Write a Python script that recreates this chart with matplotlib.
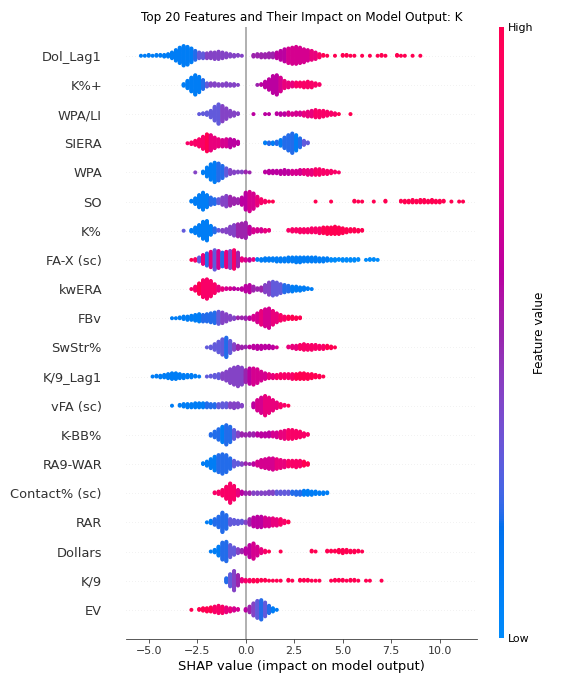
import numpy as np
import matplotlib
matplotlib.use("Agg")
import matplotlib.pyplot as plt
from matplotlib.colors import LinearSegmentedColormap, Normalize
from matplotlib.cm import ScalarMappable

title = "Top 20 Features and Their Impact on Model Output: K"

# feature names, top row first
features = ["Dol_Lag1", "K%+", "WPA/LI", "SIERA", "WPA", "SO", "K%", "FA-X (sc)",
            "kwERA", "FBv", "SwStr%", "K/9_Lag1", "vFA (sc)", "K-BB%", "RA9-WAR",
            "Contact% (sc)", "RAR", "Dollars", "K/9", "EV"]

# SHAP values binned: bin centres start at -5.6 and step 0.2
# *_n = number of samples in each bin, *_c = feature value level 0..10
bin_start = -5.6
bin_step = 0.2
n_bins = 85

dol_lag1_n = [0, 1, 1, 2, 1, 2, 2, 3, 4, 8, 14, 20, 25, 23, 18, 12, 8, 7, 7, 8, 9, 10, 8, 6, 4,
              3, 2, 1, 0, 0, 3, 4, 5, 5, 6, 6, 8, 12, 16, 19, 21, 22, 20, 17, 14, 12, 9, 5, 2, 1,
              0, 1, 0, 2, 2, 1, 1, 0, 1, 0, 1, 0, 1, 2, 1, 0, 0, 2, 1, 1, 0, 1, 0, 1, 0]
dol_lag1_c = [1, 1, 1, 1, 1, 1, 1, 1, 1, 1, 1, 1, 1, 1, 1, 2, 3, 3, 4, 4, 4, 4, 4, 4, 4,
              4, 4, 4, 5, 5, 5, 5, 5, 5, 5, 5, 6, 6, 6, 7, 7, 7, 7, 7, 7, 8, 8, 9, 10, 10,
              10, 10, 10, 10, 10, 10, 10, 10, 10, 10, 10, 10, 10, 10, 10, 10, 10, 10, 10, 10, 10, 10, 10, 10, 10]

k_pct_plus_n = [0, 0, 0, 0, 0, 0, 0, 0, 0, 0, 0, 0, 3, 10, 18, 25, 20, 12, 5, 4, 4, 3, 3, 4, 3,
                3, 1, 0, 0, 0, 0, 1, 2, 8, 14, 22, 25, 18, 10, 7, 6, 6, 6, 7, 8, 7, 4, 2]
k_pct_plus_c = [0, 0, 0, 0, 0, 0, 0, 0, 0, 0, 1, 1, 1, 1, 1, 1, 1, 2, 3, 4, 4, 4, 4, 4, 4,
                4, 4, 4, 4, 4, 5, 5, 6, 6, 6, 6, 6, 7, 8, 8, 8, 9, 9, 9, 9, 9, 9, 9]

wpa_li_n = [0, 0, 0, 0, 0, 0, 0, 0, 0, 0, 0, 0, 0, 0, 0, 0, 1, 2, 4, 9, 18, 25, 20, 14, 8,
            5, 2, 0, 0, 0, 1, 0, 0, 1, 1, 0, 2, 3, 3, 4, 3, 4, 4, 5, 7, 8, 10, 9, 8, 6,
            4, 3, 1, 0, 0, 1]
wpa_li_c = [0, 0, 0, 0, 0, 0, 0, 0, 0, 0, 0, 0, 0, 0, 0, 3, 3, 3, 3, 3, 3, 3, 4, 4, 4,
            4, 4, 4, 4, 4, 6, 6, 6, 6, 6, 6, 6, 6, 6, 7, 7, 7, 7, 8, 8, 8, 9, 9, 9, 9,
            9, 9, 10, 10, 10, 10]

siera_n = [0, 0, 0, 0, 0, 0, 0, 0, 0, 0, 0, 0, 0, 1, 3, 6, 10, 16, 22, 20, 14, 10, 9, 10, 11,
           8, 4, 0, 0, 0, 0, 0, 0, 2, 3, 3, 4, 8, 14, 20, 25, 20, 12, 6, 2]
siera_c = [0, 0, 0, 0, 0, 0, 0, 0, 0, 0, 9, 9, 9, 9, 9, 9, 9, 9, 10, 8, 8, 8, 7, 7, 6,
           6, 6, 6, 6, 6, 2, 2, 2, 1, 2, 1, 2, 1, 2, 2, 2, 1, 2, 3, 3]

wpa_n = [0, 0, 0, 0, 0, 0, 0, 0, 0, 0, 0, 0, 0, 0, 0, 1, 0, 3, 12, 20, 25, 22, 16, 10, 6,
         3, 2, 2, 2, 1, 0, 0, 0, 2, 4, 4, 4, 5, 6, 5, 5, 5, 6, 6, 7, 7, 8, 8, 6, 5,
         4, 2, 1]
wpa_c = [0, 0, 0, 0, 0, 0, 0, 0, 0, 0, 0, 0, 0, 0, 0, 4, 0, 1, 1, 1, 1, 2, 2, 3, 4,
         4, 4, 4, 5, 5, 5, 5, 5, 6, 6, 6, 6, 6, 6, 6, 7, 7, 7, 8, 8, 8, 9, 9, 9, 9,
         9, 9, 9]

so_n = [0, 0, 0, 0, 0, 0, 0, 0, 0, 0, 0, 0, 0, 0, 2, 8, 16, 22, 16, 10, 7, 6, 10, 14, 12,
        8, 6, 10, 22, 25, 20, 12, 6, 3, 1, 1, 0, 0, 0, 0, 0, 0, 0, 0, 0, 0, 1, 0, 0, 0,
        1, 0, 0, 0, 0, 0, 2, 1, 1, 0, 0, 1, 0, 0, 2, 0, 0, 0, 2, 3, 3, 4, 3, 4, 4,
        3, 4, 3, 3, 2, 0, 1, 0, 1, 1]
so_c = [1, 1, 1, 1, 1, 1, 1, 1, 1, 1, 1, 1, 1, 1, 1, 1, 1, 1, 1, 2, 2, 3, 4, 4, 5,
        5, 5, 6, 6, 7, 7, 8, 9, 9, 10, 10, 10, 10, 10, 10, 10, 10, 10, 10, 10, 10, 10, 10, 10, 10,
        10, 10, 10, 10, 10, 10, 10, 10, 10, 10, 10, 10, 10, 10, 10, 10, 10, 10, 10, 10, 10, 10, 10, 10, 10,
        10, 10, 10, 10, 10, 10, 10, 10, 10, 10]

k_pct_n = [0, 0, 0, 0, 0, 0, 0, 0, 0, 0, 0, 0, 1, 0, 3, 8, 14, 22, 25, 12, 6, 2, 3, 5, 10,
           14, 16, 18, 20, 10, 5, 4, 4, 3, 2, 0, 0, 0, 0, 2, 4, 4, 5, 5, 5, 6, 6, 7, 8, 9,
           9, 10, 9, 7, 5, 4, 4, 3, 2]
k_pct_c = [0, 0, 0, 0, 0, 0, 0, 0, 0, 0, 3, 3, 3, 3, 1, 1, 1, 1, 1, 1, 2, 3, 4, 4, 4,
           4, 5, 5, 5, 6, 7, 7, 7, 8, 8, 9, 9, 9, 9, 9, 9, 9, 9, 9, 9, 9, 9, 9, 10, 10,
           10, 10, 10, 10, 10, 10, 10, 10, 10]

fa_x_n = [0, 0, 0, 0, 0, 0, 0, 0, 0, 0, 0, 0, 0, 0, 1, 3, 6, 12, 16, 20, 25, 22, 18, 20, 22,
          24, 18, 4, 3, 3, 2, 2, 3, 4, 4, 4, 5, 5, 5, 6, 6, 7, 7, 6, 6, 6, 6, 5, 5, 4,
          3, 3, 2, 3, 3, 3, 3, 2, 0, 1, 2, 2, 1]
fa_x_c = [0, 0, 0, 0, 0, 0, 0, 0, 0, 0, 10, 10, 10, 10, 10, 9, 3, 8, 2, 8, 3, 7, 2, 8, 4,
          9, 5, 8, 7, 6, 8, 1, 1, 1, 1, 1, 1, 1, 1, 1, 1, 1, 1, 1, 1, 1, 1, 1, 1, 1,
          0, 0, 0, 0, 0, 0, 0, 0, 0, 0, 0, 0, 0]

kwera_n = [0, 0, 0, 0, 0, 0, 0, 0, 0, 0, 0, 0, 0, 0, 1, 6, 14, 22, 25, 20, 12, 6, 3, 2, 2,
           2, 1, 3, 8, 10, 6, 3, 5, 10, 16, 18, 16, 12, 10, 8, 7, 6, 5, 4, 2, 1]
kwera_c = [0, 0, 0, 0, 0, 0, 0, 0, 0, 0, 9, 9, 9, 9, 9, 9, 10, 9, 9, 9, 9, 8, 8, 7, 7,
           6, 6, 6, 6, 6, 5, 5, 5, 4, 4, 3, 3, 3, 2, 2, 1, 1, 1, 1, 1, 1]

fbv_n = [0, 0, 0, 0, 0, 0, 0, 0, 0, 1, 1, 2, 4, 5, 6, 8, 10, 9, 10, 12, 14, 16, 14, 10, 6,
         3, 2, 2, 3, 3, 6, 12, 18, 22, 25, 18, 12, 8, 5, 4, 4, 3, 2]
fbv_c = [1, 1, 1, 1, 1, 1, 1, 1, 1, 1, 1, 1, 1, 1, 1, 1, 1, 2, 2, 2, 2, 3, 4, 4, 4,
         4, 5, 5, 5, 6, 7, 7, 8, 7, 7, 8, 8, 9, 9, 10, 10, 10, 10]

swstr_n = [0, 0, 0, 0, 0, 0, 0, 0, 0, 0, 0, 0, 0, 0, 0, 0, 0, 0, 1, 3, 8, 14, 20, 25, 16,
           8, 5, 3, 2, 2, 4, 5, 5, 4, 4, 3, 1, 0, 0, 2, 4, 5, 6, 8, 7, 7, 6, 5, 5, 4,
           3, 1]
swstr_c = [0, 0, 0, 0, 0, 0, 0, 0, 0, 0, 0, 0, 0, 0, 0, 3, 3, 3, 3, 3, 3, 3, 3, 2, 3,
           4, 5, 5, 5, 6, 6, 6, 6, 6, 6, 6, 7, 7, 8, 8, 8, 8, 9, 9, 9, 9, 9, 9, 9, 10,
           10, 10]

k9_lag1_n = [0, 0, 0, 0, 1, 2, 3, 4, 6, 8, 8, 6, 5, 4, 4, 2, 1, 0, 1, 2, 4, 6, 8, 12, 18,
             22, 25, 22, 16, 20, 21, 18, 12, 8, 6, 5, 5, 6, 6, 6, 7, 7, 8, 8, 7, 6, 4, 3, 1]
k9_lag1_c = [1, 1, 1, 1, 1, 1, 1, 1, 1, 1, 1, 1, 1, 1, 1, 1, 1, 1, 3, 3, 3, 3, 4, 4, 4,
             4, 4, 4, 5, 6, 7, 7, 7, 7, 8, 8, 9, 9, 9, 9, 9, 10, 10, 10, 10, 10, 10, 10, 10]

vfa_n = [0, 0, 0, 0, 0, 0, 0, 0, 0, 1, 0, 2, 4, 5, 5, 6, 6, 6, 6, 5, 5, 5, 6, 6, 6,
         7, 6, 3, 0, 0, 6, 14, 20, 25, 20, 14, 8, 5, 2, 1]
vfa_c = [1, 1, 1, 1, 1, 1, 1, 1, 1, 1, 1, 1, 1, 1, 1, 1, 1, 1, 2, 2, 2, 3, 3, 3, 4,
         4, 4, 4, 4, 4, 6, 7, 7, 8, 8, 8, 8, 9, 9, 10]

kbb_n = [0, 0, 0, 0, 0, 0, 0, 0, 0, 0, 0, 0, 0, 0, 0, 0, 0, 0, 0, 3, 8, 14, 20, 25, 20,
         12, 6, 4, 3, 4, 4, 4, 5, 5, 6, 6, 7, 9, 11, 12, 12, 10, 8, 5, 2]
kbb_c = [0, 0, 0, 0, 0, 0, 0, 0, 0, 0, 0, 0, 0, 0, 0, 2, 2, 2, 2, 2, 2, 2, 1, 2, 2,
         3, 4, 5, 5, 5, 5, 6, 6, 6, 6, 7, 7, 8, 8, 9, 9, 9, 9, 9, 9]

ra9_war_n = [0, 0, 0, 0, 0, 0, 0, 0, 0, 0, 0, 0, 0, 0, 0, 0, 0, 2, 6, 12, 18, 22, 25, 22, 14,
             8, 4, 3, 2, 1, 3, 6, 10, 12, 14, 15, 13, 11, 9, 8, 8, 9, 8, 6, 3]
ra9_war_c = [0, 0, 0, 0, 0, 0, 0, 0, 0, 0, 0, 0, 0, 0, 0, 1, 1, 1, 1, 1, 1, 2, 2, 2, 2,
             3, 3, 4, 5, 5, 6, 7, 7, 7, 7, 7, 8, 8, 8, 9, 9, 9, 9, 10, 10]

contact_n = [0, 0, 0, 0, 0, 0, 0, 0, 0, 0, 0, 0, 0, 0, 0, 0, 0, 0, 0, 0, 2, 4, 8, 16, 25,
             18, 8, 4, 3, 3, 3, 3, 3, 3, 4, 4, 4, 4, 4, 4, 4, 5, 5, 6, 6, 5, 4, 3, 3, 2]
contact_c = [0, 0, 0, 0, 0, 0, 0, 0, 0, 0, 0, 0, 0, 0, 0, 0, 0, 0, 0, 0, 9, 9, 9, 9, 9,
             9, 8, 6, 5, 5, 4, 4, 4, 4, 4, 4, 3, 3, 3, 3, 2, 2, 2, 1, 1, 1, 1, 1, 1, 1]

rar_n = [0, 0, 0, 0, 0, 0, 0, 0, 0, 0, 0, 0, 0, 0, 0, 0, 0, 0, 1, 4, 8, 14, 25, 18, 8,
         6, 5, 4, 3, 8, 12, 14, 14, 12, 11, 10, 9, 8, 4, 2]
rar_c = [0, 0, 0, 0, 0, 0, 0, 0, 0, 0, 0, 0, 0, 0, 0, 1, 1, 1, 1, 1, 2, 2, 2, 2, 3,
         3, 3, 3, 4, 5, 6, 6, 6, 7, 7, 8, 8, 9, 9, 10]

dollars_n = [0, 0, 0, 0, 0, 0, 0, 0, 0, 0, 0, 0, 0, 0, 0, 0, 0, 0, 0, 1, 4, 12, 22, 25, 16,
             10, 6, 4, 8, 16, 20, 12, 6, 3, 1, 0, 0, 1, 0, 0, 0, 0, 0, 0, 0, 2, 1, 0, 0, 2,
             2, 2, 4, 5, 4, 3, 3, 2, 1]
dollars_c = [0, 0, 0, 0, 0, 0, 0, 0, 0, 0, 0, 0, 0, 0, 0, 1, 1, 1, 1, 1, 1, 1, 2, 2, 3,
             3, 4, 5, 6, 6, 7, 7, 8, 9, 10, 10, 10, 10, 10, 10, 10, 10, 10, 10, 10, 10, 10, 10, 10, 10,
             10, 10, 10, 10, 10, 10, 10, 10, 10]

k9_n = [0, 0, 0, 0, 0, 0, 0, 0, 0, 0, 0, 0, 0, 0, 0, 0, 0, 0, 0, 0, 0, 0, 0, 6, 16,
        25, 14, 4, 3, 3, 3, 3, 2, 2, 1, 1, 1, 1, 0, 2, 1, 0, 2, 2, 2, 1, 1, 1, 0, 0,
        1, 2, 2, 2, 1, 2, 2, 1, 0, 1, 1, 0, 0, 1, 0]
k9_c = [0, 0, 0, 0, 0, 0, 0, 0, 0, 0, 0, 0, 0, 0, 0, 0, 0, 0, 0, 0, 3, 3, 3, 2, 3,
        4, 5, 8, 9, 9, 10, 10, 10, 10, 10, 10, 10, 10, 10, 10, 10, 10, 10, 10, 10, 10, 10, 10, 10, 10,
        10, 10, 10, 10, 10, 10, 10, 10, 10, 10, 10, 10, 10, 10, 10]

ev_n = [0, 0, 0, 0, 0, 0, 0, 0, 0, 0, 0, 0, 0, 0, 1, 0, 2, 4, 5, 6, 8, 10, 9, 7, 5,
        4, 2, 0, 3, 8, 16, 22, 25, 18, 10, 5, 1]
ev_c = [0, 0, 0, 0, 0, 0, 0, 0, 0, 0, 10, 10, 10, 10, 10, 10, 10, 10, 10, 10, 9, 9, 9, 8, 8,
        7, 7, 6, 6, 5, 4, 3, 2, 3, 2, 1, 1]

row_counts = [dol_lag1_n, k_pct_plus_n, wpa_li_n, siera_n, wpa_n, so_n, k_pct_n, fa_x_n,
              kwera_n, fbv_n, swstr_n, k9_lag1_n, vfa_n, kbb_n, ra9_war_n, contact_n,
              rar_n, dollars_n, k9_n, ev_n]
row_levels = [dol_lag1_c, k_pct_plus_c, wpa_li_c, siera_c, wpa_c, so_c, k_pct_c, fa_x_c,
              kwera_c, fbv_c, swstr_c, k9_lag1_c, vfa_c, kbb_c, ra9_war_c, contact_c,
              rar_c, dollars_c, k9_c, ev_c]


# shap's red_blue colormap (interpolated in LCH space)
def lch2rgb(l, c, h):
    a = c * np.cos(h)
    b = c * np.sin(h)
    fy = (l + 16.0) / 116.0
    fx = fy + a / 500.0
    fz = fy - b / 200.0

    def finv(t):
        return t ** 3 if t > 6 / 29 else 3 * (6 / 29) ** 2 * (t - 4 / 29)

    xyz = np.array([0.95047 * finv(fx), finv(fy), 1.08883 * finv(fz)])
    m = np.array([[3.2404542, -1.5371385, -0.4985314],
                  [-0.9692660, 1.8760108, 0.0415560],
                  [0.0556434, -0.2040259, 1.0572252]])
    rgb = m @ xyz
    rgb = np.where(rgb <= 0.0031308, 12.92 * rgb, 1.055 * np.abs(rgb) ** (1 / 2.4) - 0.055)
    return np.clip(rgb, 0, 1)


blue_lch = [54.0, 70.0, 4.6588]
red_lch = [54.0, 90.0, 0.35470565 + 2 * np.pi]
l_mid = 40.0
nsteps = 100
l_vals = list(np.linspace(blue_lch[0], l_mid, nsteps // 2)) + list(np.linspace(l_mid, red_lch[0], nsteps // 2))
c_vals = np.linspace(blue_lch[1], red_lch[1], nsteps)
h_vals = np.linspace(blue_lch[2], red_lch[2], nsteps)
cm_list = [lch2rgb(l, c, h) for l, c, h in zip(l_vals, c_vals, h_vals)]
red_blue = LinearSegmentedColormap.from_list("red_blue", cm_list)

axis_color = "#333333"
row_height = 0.4

fig = plt.figure(figsize=(8, 9.5), dpi=72)
ax = fig.add_axes([126 / 576, 45 / 684, 351 / 576, 612.4 / 684])

ax.axvline(0, color="#999999", zorder=-1)

nfeat = len(features)
for i, name in enumerate(features):
    pos = nfeat - 1 - i
    ax.axhline(pos, color="#cccccc", lw=0.5, dashes=(1, 5), zorder=-1)
    counts = row_counts[i] + [0] * (n_bins - len(row_counts[i]))
    levels = row_levels[i] + [0] * (n_bins - len(row_levels[i]))
    xs, ys, vals = [], [], []
    for b in range(n_bins):
        x = bin_start + bin_step * b
        for layer in range(counts[b]):
            xs.append(x)
            ys.append(np.ceil(layer / 2) * ((layer % 2) * 2 - 1))
            vals.append(levels[b] / 10.0)
    ys = np.array(ys)
    ys *= 0.9 * (row_height / np.max(ys + 1))
    ax.scatter(xs, pos + ys, c=vals, cmap=red_blue, vmin=0, vmax=1, s=16,
               linewidth=0, rasterized=True, zorder=3)

ax.set_xlim(-6.17, 11.92)
ax.set_ylim(-1, nfeat)
ax.set_yticks(range(nfeat))
ax.set_yticklabels(features[::-1], fontsize=13)
ax.xaxis.set_ticks_position("bottom")
for s in ["right", "top", "left"]:
    ax.spines[s].set_visible(False)
ax.spines["bottom"].set_color(axis_color)
ax.tick_params(color=axis_color, labelcolor=axis_color)
ax.tick_params("y", length=0, pad=24)
ax.tick_params("x", labelsize=11)
ax.set_xlabel("SHAP value (impact on model output)", fontsize=13)
ax.set_title(title, fontsize=12)

cax = fig.add_axes([499 / 576, 46 / 684, 5 / 576, 611 / 684])
sm = ScalarMappable(norm=Normalize(0, 1), cmap=red_blue)
cb = fig.colorbar(sm, cax=cax, ticks=[0, 1])
cb.set_ticklabels(["Low", "High"])
cb.set_label("Feature value", size=12, labelpad=0)
cb.ax.tick_params(labelsize=11, length=0)
cb.outline.set_visible(False)

fig.savefig("out.png", dpi=72)
